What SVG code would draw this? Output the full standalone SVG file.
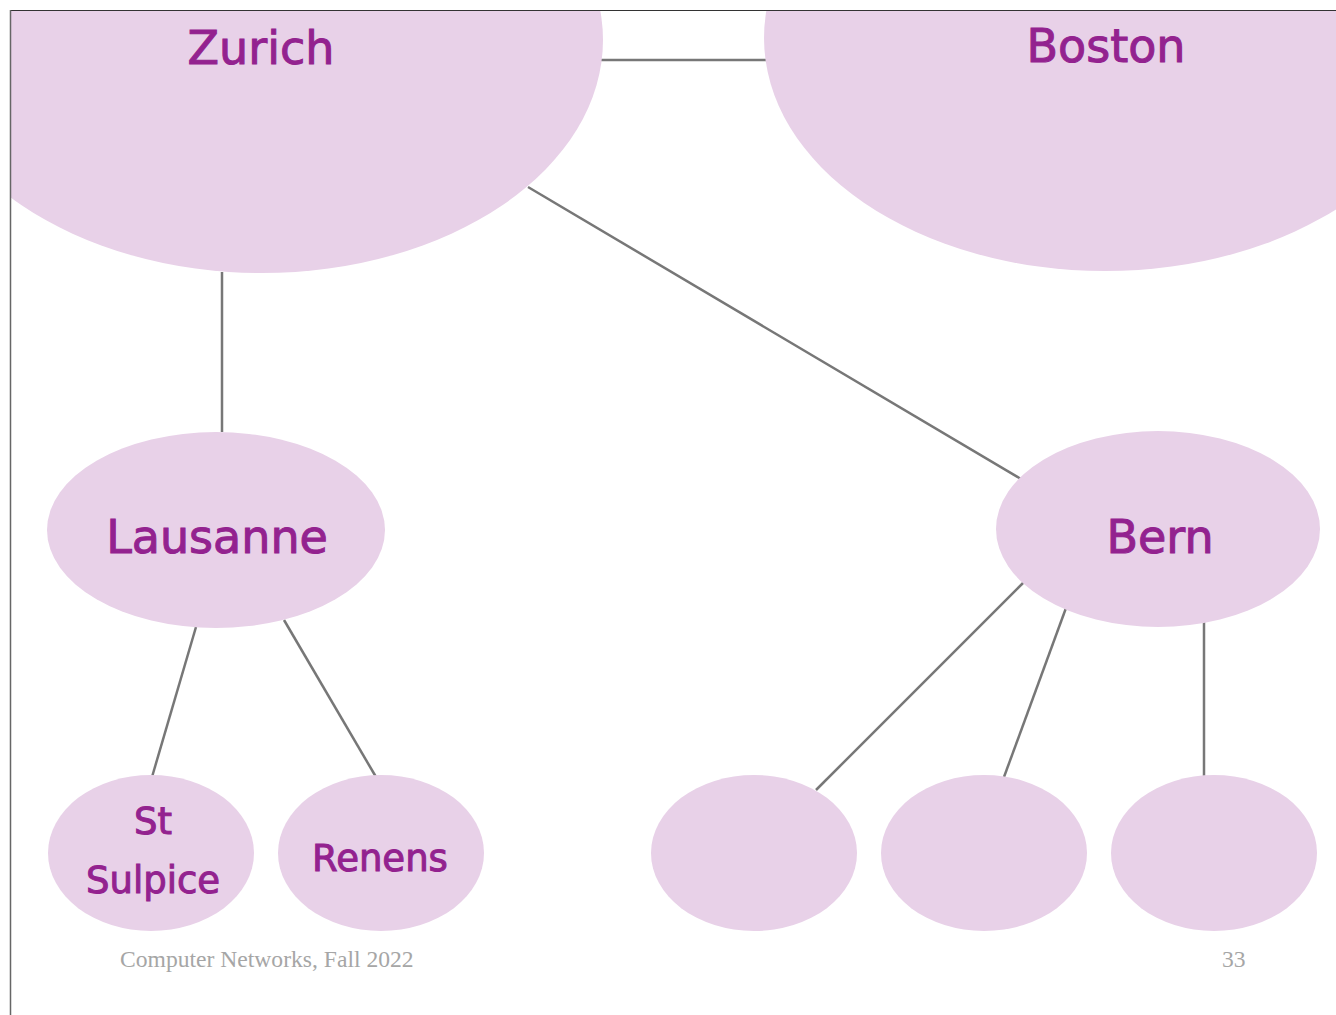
<svg xmlns="http://www.w3.org/2000/svg" width="1336" height="1015" viewBox="0 0 1336 1015">
<defs>
<style>
.node{fill:#e8d1e8}
.lbl{font-family:"DejaVu Sans","Liberation Sans",sans-serif;fill:#93228f;stroke:#93228f;stroke-width:1;text-anchor:middle}
.big{font-size:46px}
.small{font-size:37px}
.edge{stroke:#777;stroke-width:2.5;fill:none}
.foot{font-family:"Liberation Serif","Times New Roman",serif;font-size:23.6px;fill:#a6a6a6}
</style>
<clipPath id="frame"><rect x="10" y="10" width="1326" height="1005"/></clipPath>
</defs>
<rect width="1336" height="1015" fill="#fff"/>
<g id="connectors">
<line class="edge" x1="600" y1="60" x2="766" y2="60"/>
<line class="edge" x1="528" y1="187" x2="1021" y2="479"/>
<line class="edge" x1="222" y1="272" x2="222" y2="432"/>
<line class="edge" x1="196" y1="627" x2="152" y2="777"/>
<line class="edge" x1="284" y1="620" x2="376" y2="777"/>
<line class="edge" x1="1024" y1="582" x2="816" y2="790"/>
<line class="edge" x1="1066" y1="608" x2="1004" y2="777"/>
<line class="edge" x1="1204" y1="622" x2="1204" y2="777"/>
</g>
<g clip-path="url(#frame)">
<g id="zurich"><ellipse class="node" cx="262" cy="40" rx="341" ry="233"/><text class="lbl big" x="261" y="64">Zurich</text></g>
<g id="boston"><ellipse class="node" cx="1105" cy="38" rx="341" ry="233"/><text class="lbl big" x="1106" y="62">Boston</text></g>
</g>
<g id="lausanne"><ellipse class="node" cx="216" cy="530" rx="169" ry="98"/><text class="lbl big" x="217" y="553">Lausanne</text></g>
<g id="bern"><ellipse class="node" cx="1158" cy="529" rx="162" ry="98"/><text class="lbl big" x="1160" y="553">Bern</text></g>
<g id="stsulpice"><ellipse class="node" cx="151" cy="853" rx="103" ry="78"/><text class="lbl small" x="153" y="834">St</text><text class="lbl small" x="153" y="893">Sulpice</text></g>
<g id="renens"><ellipse class="node" cx="381" cy="853" rx="103" ry="78"/><text class="lbl small" x="380" y="871">Renens</text></g>
<g id="blank1"><ellipse class="node" cx="754" cy="853" rx="103" ry="78"/></g>
<g id="blank2"><ellipse class="node" cx="984" cy="853" rx="103" ry="78"/></g>
<g id="blank3"><ellipse class="node" cx="1214" cy="853" rx="103" ry="78"/></g>
<line x1="10" y1="10.5" x2="1336" y2="10.5" stroke="#333" stroke-width="1.2"/>
<line x1="10.5" y1="10" x2="10.5" y2="1015" stroke="#666" stroke-width="1.5"/>
<text class="foot" x="120" y="967">Computer Networks, Fall 2022</text>
<text class="foot" x="1222" y="967">33</text>
</svg>
